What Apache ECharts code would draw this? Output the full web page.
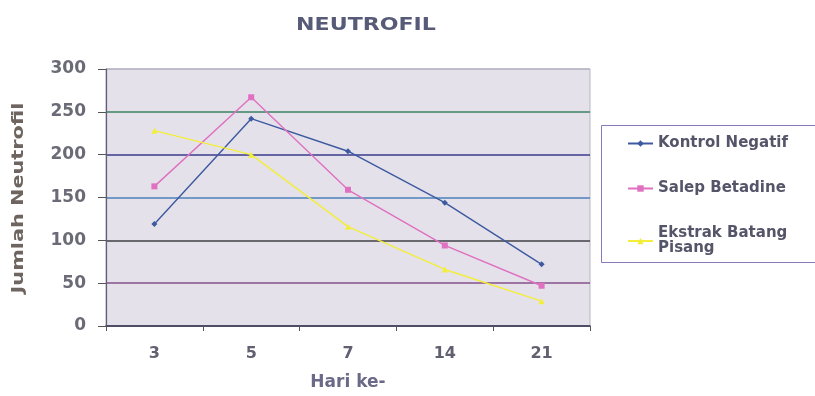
<!DOCTYPE html>
<html>
<head>
<meta charset="utf-8">
<script src="https://cdn.jsdelivr.net/npm/echarts@6/dist/echarts.min.js"></script>
<style>html,body{margin:0;padding:0;background:#fff;}#c{width:815px;height:396px;}</style>
</head>
<body>
<div id="c"></div>
<script>
const days = ['3', '5', '7', '14', '21'];
const kontrolNegatif = [119, 242, 204, 144, 72];
const salepBetadine = [163, 267, 159, 94, 47];
const ekstrakBatangPisang = [228, 200, 116, 66, 29];
const seriesNames = ['Kontrol Negatif', 'Salep Betadine', 'Ekstrak Batang Pisang'];

const chart = echarts.init(document.getElementById('c'));
const font = 'DejaVu Sans, Liberation Sans, Arial, sans-serif';
function mk(name, data, color, symbol) {
  return {
    name: name, type: 'line', data: data,
    symbol: symbol, symbolSize: 6,
    itemStyle: { color: color },
    lineStyle: { color: color, width: 1.4 },
    emphasis: { disabled: true }
  };
}
chart.setOption({
  animation: false,
  backgroundColor: '#ffffff',
  grid: {
    left: 106, right: 225, top: 69, bottom: 68,
    show: true, backgroundColor: '#e4e1ea', borderColor: '#b9b6c4', borderWidth: 1
  },
  legend: {
    orient: 'vertical', left: 627, top: 136, itemGap: 30, padding: 0,
    itemWidth: 25, itemHeight: 8,
    data: seriesNames,
    formatter: function (n) { return n === 'Ekstrak Batang Pisang' ? 'Ekstrak Batang\nPisang' : n; },
    textStyle: { fontFamily: font, fontSize: 15, fontWeight: 'bold', color: '#55556a', lineHeight: 15 }
  },
  graphic: [
    {
      type: 'rect', shape: { x: 601.5, y: 125.5, width: 240, height: 137 },
      style: { fill: 'none', stroke: '#8a78b8', lineWidth: 1 }, z: 0
    },
    {
      type: 'text', x: 366, y: 26, scaleX: 1.3,
      style: {
        text: 'NEUTROFIL', align: 'center', verticalAlign: 'middle',
        font: 'bold 17px DejaVu Sans, sans-serif', fill: '#585b78'
      }
    },
    {
      type: 'text', x: 19, y: 198, rotation: Math.PI / 2, scaleX: 1.3,
      style: {
        text: 'Jumlah Neutrofil', align: 'center', verticalAlign: 'middle',
        font: 'bold 16px DejaVu Sans, sans-serif', fill: '#6e6460'
      }
    }
  ],
  xAxis: {
    type: 'category', data: days, boundaryGap: true,
    name: 'Hari ke-', nameLocation: 'middle', nameGap: 48,
    nameTextStyle: { fontFamily: font, fontSize: 17, fontWeight: 'bold', color: '#6a6a88' },
    axisLine: { lineStyle: { color: '#454560', width: 1.5 } },
    axisTick: { show: true, length: 5, lineStyle: { color: '#555' } },
    axisLabel: { fontFamily: font, fontSize: 16, fontWeight: 'bold', color: '#606070', margin: 20 },
    splitLine: { show: false }
  },
  yAxis: {
    type: 'value', min: 0, max: 300, interval: 50,
    axisLine: { show: true, lineStyle: { color: '#606070', width: 1.2 } },
    axisTick: { show: true, length: 8, lineStyle: { color: '#555' } },
    axisLabel: { fontFamily: font, fontSize: 17, fontWeight: 'bold', color: '#6b6b78', margin: 20 },
    splitLine: {
      show: true, showMinLine: true, showMaxLine: true,
      lineStyle: {
        width: 1.6,
        color: ['#454560', '#87508a', '#3f3f45', '#4d80b8', '#3b3b8e', '#3a8060', '#b9b6c4']
      }
    }
  },
  series: [
    mk(seriesNames[0], kontrolNegatif, '#3d5aa0', 'diamond'),
    mk(seriesNames[1], salepBetadine, '#e070c0', 'rect'),
    mk(seriesNames[2], ekstrakBatangPisang, '#f2ee3a', 'triangle')
  ]
});
</script>
</body>
</html>
